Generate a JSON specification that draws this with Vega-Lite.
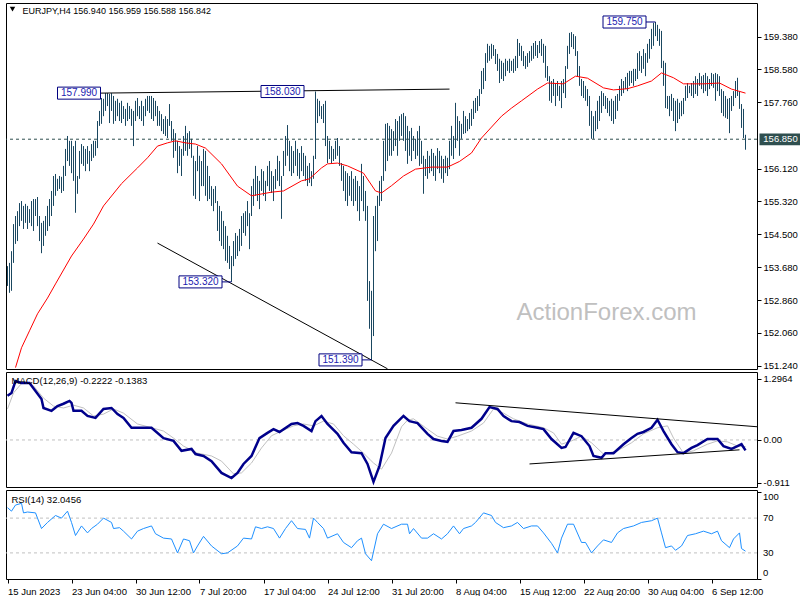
{
"$schema":"https://vega.github.io/schema/vega-lite/v6.json",
"background":"#ffffff",
"padding":{"left":2,"top":2,"right":0,"bottom":0},
"bounds":"flush",
"spacing":3,
"config":{"view":{"stroke":"#000000","strokeWidth":1},"axis":{"labelFont":"Tahoma, Liberation Sans, sans-serif","labelFontSize":9.5,"labelColor":"#000000","tickColor":"#000000","domain":false,"grid":false,"tickSize":4,"labelPadding":2,"labelOverlap":false}},
"datasets":{
"bars":[
{"i":0,"h":153.71,"l":153.22},{"i":1,"h":153.79,"l":153.05},{"i":2,"h":154.08,"l":153.10},{"i":3,"h":154.75,"l":153.79},{"i":4,"h":154.95,"l":154.26},{"i":5,"h":155.07,"l":154.33},{"i":6,"h":155.27,"l":154.70},{"i":7,"h":155.32,"l":154.83},{"i":8,"h":155.20,"l":154.63},{"i":9,"h":155.25,"l":154.78},
{"i":10,"h":155.20,"l":154.63},{"i":11,"h":155.12,"l":154.78},{"i":12,"h":155.32,"l":154.70},{"i":13,"h":155.37,"l":154.58},{"i":14,"h":155.37,"l":154.95},{"i":15,"h":155.42,"l":154.70},{"i":16,"h":154.95,"l":154.33},{"i":17,"h":154.78,"l":154.03},{"i":18,"h":154.83,"l":154.21},{"i":19,"h":154.95,"l":154.46},
{"i":20,"h":155.20,"l":154.58},{"i":21,"h":155.37,"l":154.70},{"i":22,"h":155.57,"l":154.95},{"i":23,"h":155.94,"l":155.20},{"i":24,"h":155.99,"l":155.45},{"i":25,"h":155.87,"l":155.57},{"i":26,"h":155.94,"l":155.62},{"i":27,"h":155.92,"l":155.52},{"i":28,"h":156.19,"l":155.57},{"i":29,"h":156.61,"l":155.94},
{"i":30,"h":156.93,"l":156.31},{"i":31,"h":156.81,"l":156.19},{"i":32,"h":156.81,"l":156.01},{"i":33,"h":156.68,"l":155.82},{"i":34,"h":156.81,"l":155.03},{"i":35,"h":155.94,"l":155.50},{"i":36,"h":156.56,"l":155.87},{"i":37,"h":156.73,"l":156.24},{"i":38,"h":156.68,"l":156.19},{"i":39,"h":156.61,"l":156.06},
{"i":40,"h":156.68,"l":156.24},{"i":41,"h":156.56,"l":156.06},{"i":42,"h":156.73,"l":156.31},{"i":43,"h":156.81,"l":156.39},{"i":44,"h":156.81,"l":156.44},{"i":45,"h":157.30,"l":156.63},{"i":46,"h":157.55,"l":157.18},{"i":47,"h":157.87,"l":157.23},{"i":48,"h":157.85,"l":157.42},{"i":49,"h":157.99,"l":157.55},
{"i":50,"h":157.99,"l":157.67},{"i":51,"h":157.97,"l":157.25},{"i":52,"h":157.99,"l":157.55},{"i":53,"h":157.92,"l":157.23},{"i":54,"h":157.80,"l":157.30},{"i":55,"h":157.85,"l":157.42},{"i":56,"h":157.75,"l":157.30},{"i":57,"h":157.80,"l":157.25},{"i":58,"h":157.67,"l":157.35},{"i":59,"h":157.60,"l":157.18},
{"i":60,"h":157.75,"l":157.30},{"i":61,"h":157.67,"l":157.35},{"i":62,"h":157.60,"l":157.18},{"i":63,"h":157.55,"l":156.68},{"i":64,"h":157.80,"l":157.30},{"i":65,"h":157.87,"l":157.42},{"i":66,"h":157.67,"l":157.35},{"i":67,"h":157.80,"l":157.30},{"i":68,"h":157.67,"l":157.18},{"i":69,"h":157.85,"l":157.42},
{"i":70,"h":157.92,"l":157.55},{"i":71,"h":157.92,"l":157.50},{"i":72,"h":157.92,"l":157.35},{"i":73,"h":157.87,"l":157.30},{"i":74,"h":157.80,"l":157.42},{"i":75,"h":157.67,"l":157.18},{"i":76,"h":157.55,"l":157.18},{"i":77,"h":157.47,"l":157.05},{"i":78,"h":157.35,"l":156.98},{"i":79,"h":157.42,"l":156.93},
{"i":80,"h":157.35,"l":156.88},{"i":81,"h":157.72,"l":157.18},{"i":82,"h":157.30,"l":156.81},{"i":83,"h":157.10,"l":156.39},{"i":84,"h":157.00,"l":156.56},{"i":85,"h":156.81,"l":156.01},{"i":86,"h":156.68,"l":156.19},{"i":87,"h":156.61,"l":155.94},{"i":88,"h":156.93,"l":156.44},{"i":89,"h":157.18,"l":156.56},
{"i":90,"h":157.00,"l":156.44},{"i":91,"h":157.05,"l":156.61},{"i":92,"h":156.86,"l":156.39},{"i":93,"h":156.44,"l":155.45},{"i":94,"h":156.31,"l":155.37},{"i":95,"h":156.68,"l":156.06},{"i":96,"h":156.44,"l":155.32},{"i":97,"h":156.31,"l":155.69},{"i":98,"h":156.61,"l":155.69},{"i":99,"h":156.56,"l":155.45},
{"i":100,"h":156.19,"l":155.32},{"i":101,"h":155.94,"l":155.37},{"i":102,"h":155.69,"l":155.20},{"i":103,"h":155.62,"l":155.07},{"i":104,"h":155.69,"l":155.27},{"i":105,"h":155.32,"l":154.58},{"i":106,"h":155.20,"l":154.33},{"i":107,"h":155.07,"l":154.21},{"i":108,"h":154.83,"l":154.13},{"i":109,"h":154.70,"l":153.84},
{"i":110,"h":154.46,"l":153.79},{"i":111,"h":154.21,"l":153.64},{"i":112,"h":153.96,"l":153.32},{"i":113,"h":154.33,"l":153.71},{"i":114,"h":154.53,"l":153.89},{"i":115,"h":154.46,"l":153.96},{"i":116,"h":154.63,"l":154.08},{"i":117,"h":154.95,"l":154.21},{"i":118,"h":155.02,"l":154.53},{"i":119,"h":155.07,"l":154.46},
{"i":120,"h":155.32,"l":154.70},{"i":121,"h":155.02,"l":154.13},{"i":122,"h":155.69,"l":154.95},{"i":123,"h":155.87,"l":155.20},{"i":124,"h":156.19,"l":155.45},{"i":125,"h":155.94,"l":155.32},{"i":126,"h":155.82,"l":155.12},{"i":127,"h":156.11,"l":155.57},{"i":128,"h":156.06,"l":155.45},{"i":129,"h":155.82,"l":155.32},
{"i":130,"h":156.19,"l":155.69},{"i":131,"h":156.31,"l":155.57},{"i":132,"h":156.06,"l":155.52},{"i":133,"h":155.94,"l":155.32},{"i":134,"h":156.11,"l":155.62},{"i":135,"h":156.44,"l":155.82},{"i":136,"h":156.31,"l":155.69},{"i":137,"h":155.94,"l":154.88},{"i":138,"h":156.56,"l":155.94},{"i":139,"h":156.93,"l":156.19},
{"i":140,"h":157.20,"l":156.44},{"i":141,"h":156.81,"l":156.06},{"i":142,"h":156.68,"l":155.94},{"i":143,"h":156.56,"l":156.01},{"i":144,"h":156.81,"l":156.19},{"i":145,"h":156.61,"l":155.94},{"i":146,"h":156.51,"l":155.87},{"i":147,"h":156.68,"l":156.06},{"i":148,"h":156.51,"l":155.94},{"i":149,"h":156.44,"l":155.82},
{"i":150,"h":156.19,"l":155.69},{"i":151,"h":156.26,"l":155.77},{"i":152,"h":156.06,"l":155.69},{"i":153,"h":156.44,"l":155.87},{"i":154,"h":158.03,"l":156.36},{"i":155,"h":157.85,"l":157.25},{"i":156,"h":157.80,"l":157.42},{"i":157,"h":157.67,"l":157.35},{"i":158,"h":157.72,"l":157.25},{"i":159,"h":157.80,"l":156.68},
{"i":160,"h":156.93,"l":156.26},{"i":161,"h":156.81,"l":156.36},{"i":162,"h":156.68,"l":156.26},{"i":163,"h":156.61,"l":156.31},{"i":164,"h":156.81,"l":156.36},{"i":165,"h":156.88,"l":156.44},{"i":166,"h":156.68,"l":156.19},{"i":167,"h":156.26,"l":155.82},{"i":168,"h":156.19,"l":155.57},{"i":169,"h":156.06,"l":155.32},
{"i":170,"h":156.01,"l":155.20},{"i":171,"h":155.94,"l":155.45},{"i":172,"h":156.06,"l":155.32},{"i":173,"h":155.87,"l":155.20},{"i":174,"h":155.94,"l":155.32},{"i":175,"h":155.82,"l":155.07},{"i":176,"h":155.69,"l":154.83},{"i":177,"h":156.24,"l":155.32},{"i":178,"h":155.94,"l":155.07},{"i":179,"h":155.57,"l":154.83},
{"i":180,"h":155.20,"l":152.85},{"i":181,"h":153.34,"l":152.16},{"i":182,"h":153.10,"l":151.39},{"i":183,"h":154.95,"l":151.98},{"i":184,"h":155.20,"l":154.08},{"i":185,"h":155.45,"l":154.33},{"i":186,"h":155.82,"l":155.20},{"i":187,"h":155.94,"l":155.32},{"i":188,"h":156.81,"l":155.82},{"i":189,"h":157.23,"l":156.06},
{"i":190,"h":157.25,"l":156.31},{"i":191,"h":157.18,"l":156.44},{"i":192,"h":157.10,"l":156.44},{"i":193,"h":157.05,"l":156.56},{"i":194,"h":157.35,"l":156.68},{"i":195,"h":157.30,"l":156.44},{"i":196,"h":157.42,"l":156.81},{"i":197,"h":157.47,"l":156.93},{"i":198,"h":157.50,"l":156.81},{"i":199,"h":157.42,"l":156.56},
{"i":200,"h":157.18,"l":156.24},{"i":201,"h":157.05,"l":156.44},{"i":202,"h":157.13,"l":156.31},{"i":203,"h":156.93,"l":156.56},{"i":204,"h":156.86,"l":156.36},{"i":205,"h":157.05,"l":156.44},{"i":206,"h":157.18,"l":156.19},{"i":207,"h":156.81,"l":156.24},{"i":208,"h":156.44,"l":155.50},{"i":209,"h":156.36,"l":155.94},
{"i":210,"h":156.56,"l":155.87},{"i":211,"h":156.44,"l":156.01},{"i":212,"h":156.61,"l":156.06},{"i":213,"h":156.51,"l":155.94},{"i":214,"h":156.44,"l":155.82},{"i":215,"h":156.63,"l":156.11},{"i":216,"h":156.56,"l":156.01},{"i":217,"h":156.44,"l":155.87},{"i":218,"h":156.36,"l":155.77},{"i":219,"h":156.44,"l":156.01},
{"i":220,"h":156.39,"l":155.94},{"i":221,"h":156.81,"l":156.11},{"i":222,"h":157.18,"l":156.44},{"i":223,"h":156.93,"l":156.36},{"i":224,"h":157.75,"l":156.63},{"i":225,"h":157.42,"l":156.81},{"i":226,"h":157.30,"l":156.44},{"i":227,"h":157.23,"l":156.86},{"i":228,"h":157.55,"l":156.98},{"i":229,"h":157.42,"l":157.00},
{"i":230,"h":157.35,"l":157.05},{"i":231,"h":157.50,"l":157.10},{"i":232,"h":157.60,"l":157.18},{"i":233,"h":157.80,"l":157.35},{"i":234,"h":157.87,"l":157.50},{"i":235,"h":157.92,"l":157.55},{"i":236,"h":158.09,"l":157.67},{"i":237,"h":158.54,"l":157.97},{"i":238,"h":158.61,"l":158.09},{"i":239,"h":158.98,"l":158.29},
{"i":240,"h":159.21,"l":158.74},{"i":241,"h":159.16,"l":158.79},{"i":242,"h":159.21,"l":158.84},{"i":243,"h":159.18,"l":158.91},{"i":244,"h":159.08,"l":158.71},{"i":245,"h":158.96,"l":158.54},{"i":246,"h":158.84,"l":158.24},{"i":247,"h":158.79,"l":158.34},{"i":248,"h":158.74,"l":158.29},{"i":249,"h":158.84,"l":158.41},
{"i":250,"h":158.79,"l":158.54},{"i":251,"h":158.84,"l":158.49},{"i":252,"h":158.79,"l":158.54},{"i":253,"h":158.84,"l":158.49},{"i":254,"h":158.91,"l":158.54},{"i":255,"h":159.33,"l":158.61},{"i":256,"h":159.23,"l":158.91},{"i":257,"h":159.16,"l":158.79},{"i":258,"h":159.03,"l":158.66},{"i":259,"h":158.91,"l":158.59},
{"i":260,"h":158.98,"l":158.64},{"i":261,"h":159.03,"l":158.74},{"i":262,"h":159.16,"l":158.79},{"i":263,"h":159.23,"l":158.84},{"i":264,"h":159.28,"l":158.91},{"i":265,"h":159.18,"l":158.86},{"i":266,"h":159.28,"l":158.98},{"i":267,"h":159.33,"l":158.91},{"i":268,"h":159.21,"l":158.74},{"i":269,"h":159.16,"l":158.37},
{"i":270,"h":158.66,"l":158.29},{"i":271,"h":158.41,"l":157.80},{"i":272,"h":158.29,"l":157.75},{"i":273,"h":158.34,"l":157.92},{"i":274,"h":158.24,"l":157.67},{"i":275,"h":158.29,"l":157.92},{"i":276,"h":158.17,"l":157.80},{"i":277,"h":158.29,"l":157.62},{"i":278,"h":158.34,"l":157.99},{"i":279,"h":158.66,"l":157.87},
{"i":280,"h":159.16,"l":158.59},{"i":281,"h":159.48,"l":158.96},{"i":282,"h":159.50,"l":159.13},{"i":283,"h":159.45,"l":159.08},{"i":284,"h":159.40,"l":158.91},{"i":285,"h":159.03,"l":158.41},{"i":286,"h":158.66,"l":158.17},{"i":287,"h":158.34,"l":157.92},{"i":288,"h":158.29,"l":157.87},{"i":289,"h":158.17,"l":157.80},
{"i":290,"h":158.09,"l":157.67},{"i":291,"h":157.92,"l":157.18},{"i":292,"h":157.55,"l":156.86},{"i":293,"h":157.42,"l":156.86},{"i":294,"h":157.55,"l":157.05},{"i":295,"h":157.80,"l":157.10},{"i":296,"h":157.92,"l":157.30},{"i":297,"h":158.04,"l":157.50},{"i":298,"h":157.99,"l":157.67},{"i":299,"h":157.92,"l":157.60},
{"i":300,"h":157.87,"l":157.50},{"i":301,"h":157.80,"l":157.42},{"i":302,"h":157.85,"l":157.30},{"i":303,"h":157.80,"l":157.23},{"i":304,"h":157.92,"l":157.35},{"i":305,"h":157.97,"l":157.55},{"i":306,"h":158.17,"l":157.80},{"i":307,"h":158.34,"l":157.92},{"i":308,"h":158.29,"l":157.99},{"i":309,"h":158.39,"l":158.09},
{"i":310,"h":158.49,"l":158.04},{"i":311,"h":158.54,"l":158.17},{"i":312,"h":158.54,"l":158.24},{"i":313,"h":158.59,"l":158.17},{"i":314,"h":158.59,"l":158.29},{"i":315,"h":158.98,"l":158.34},{"i":316,"h":159.03,"l":158.54},{"i":317,"h":158.91,"l":158.49},{"i":318,"h":159.08,"l":158.59},{"i":319,"h":158.98,"l":158.41},
{"i":320,"h":159.21,"l":158.74},{"i":321,"h":159.33,"l":158.84},{"i":322,"h":159.58,"l":159.08},{"i":323,"h":159.73,"l":159.16},{"i":324,"h":159.75,"l":159.40},{"i":325,"h":159.68,"l":159.28},{"i":326,"h":159.58,"l":159.16},{"i":327,"h":159.53,"l":158.61},{"i":328,"h":158.79,"l":158.17},{"i":329,"h":158.74,"l":157.62},
{"i":330,"h":157.92,"l":157.60},{"i":331,"h":157.92,"l":157.42},{"i":332,"h":157.97,"l":157.55},{"i":333,"h":157.87,"l":157.30},{"i":334,"h":157.80,"l":157.05},{"i":335,"h":157.85,"l":157.25},{"i":336,"h":157.75,"l":157.35},{"i":337,"h":157.80,"l":157.42},{"i":338,"h":157.87,"l":157.47},{"i":339,"h":158.17,"l":157.80},
{"i":340,"h":158.24,"l":157.87},{"i":341,"h":158.17,"l":157.99},{"i":342,"h":158.24,"l":157.92},{"i":343,"h":158.29,"l":157.87},{"i":344,"h":158.41,"l":157.97},{"i":345,"h":158.34,"l":157.92},{"i":346,"h":158.49,"l":158.17},{"i":347,"h":158.41,"l":158.09},{"i":348,"h":158.44,"l":157.99},{"i":349,"h":158.49,"l":158.04},
{"i":350,"h":158.41,"l":157.92},{"i":351,"h":158.34,"l":158.09},{"i":352,"h":158.49,"l":158.17},{"i":353,"h":158.46,"l":158.12},{"i":354,"h":158.49,"l":157.80},{"i":355,"h":158.46,"l":158.04},{"i":356,"h":158.41,"l":157.92},{"i":357,"h":158.09,"l":157.50},{"i":358,"h":158.04,"l":157.42},{"i":359,"h":157.92,"l":157.38},
{"i":360,"h":157.85,"l":157.35},{"i":361,"h":157.87,"l":157.00},{"i":362,"h":157.92,"l":157.55},{"i":363,"h":158.04,"l":157.67},{"i":364,"h":158.29,"l":157.87},{"i":365,"h":158.37,"l":157.92},{"i":366,"h":158.04,"l":157.60},{"i":367,"h":157.72,"l":157.13},{"i":368,"h":157.60,"l":156.88},{"i":369,"h":156.96,"l":156.59}
],
"ma":[
{"i":4,"p":151.2},{"i":7,"p":151.69},{"i":11,"p":152.11},{"i":15,"p":152.53},{"i":20,"p":152.92},{"i":24,"p":153.27},{"i":32,"p":153.96},{"i":38,"p":154.38},{"i":43,"p":154.75},{"i":48,"p":155.2},{"i":57,"p":155.75},{"i":65,"p":156.14},{"i":70,"p":156.39},{"i":75,"p":156.68},{"i":80,"p":156.76},{"i":84,"p":156.81},{"i":89,"p":156.76},{"i":94,"p":156.73},{"i":99,"p":156.63},{"i":107,"p":156.24},{"i":115,"p":155.69},{"i":122,"p":155.45},{"i":132,"p":155.54},{"i":138,"p":155.57},{"i":147,"p":155.82},{"i":151,"p":155.87},{"i":157,"p":156.14},{"i":160,"p":156.24},{"i":165,"p":156.26},{"i":170,"p":156.19},{"i":178,"p":156.01},{"i":184,"p":155.57},{"i":187,"p":155.52},{"i":192,"p":155.7},{"i":198,"p":155.94},{"i":204,"p":156.11},{"i":212,"p":156.16},{"i":220,"p":156.16},{"i":226,"p":156.3},{"i":232,"p":156.51},{"i":237,"p":156.88},{"i":242,"p":157.15},{"i":247,"p":157.42},{"i":252,"p":157.62},{"i":257,"p":157.8},{"i":265,"p":158.09},{"i":270,"p":158.24},{"i":278,"p":158.22},{"i":284,"p":158.41},{"i":290,"p":158.36},{"i":298,"p":158.12},{"i":303,"p":158.07},{"i":310,"p":158.1},{"i":315,"p":158.17},{"i":322,"p":158.29},{"i":327,"p":158.49},{"i":333,"p":158.37},{"i":338,"p":158.22},{"i":348,"p":158.22},{"i":356,"p":158.24},{"i":362,"p":158.09},{"i":369,"p":157.99}
],
"tl":[
{"g":"a","i":46,"p":157.99},{"g":"a","i":221,"p":158.09},
{"g":"b","i":75,"p":154.28},{"g":"b","i":190,"p":151.17}
],
"lbl":[
{"t":"157.990","c":35.75,"p":157.99},{"t":"158.030","c":137.5,"p":158.03},{"t":"159.750","c":308.5,"p":159.75},{"t":"153.320","c":96.5,"p":153.32},{"t":"151.390","c":166.5,"p":151.39}
],
"conn":[
{"a":319,"b":324,"p":159.75},{"a":107,"b":112,"p":153.32},{"a":177,"b":182,"p":151.39}
],
"macd":[
{"i":0,"m":0.94},{"i":2,"m":1.0},{"i":4,"m":1.25},{"i":7,"m":1.21},{"i":11,"m":1.21},{"i":14,"m":1.04},{"i":17,"m":0.87},{"i":18,"m":0.68},{"i":22,"m":0.62},{"i":25,"m":0.72},{"i":28,"m":0.77},{"i":31,"m":0.83},{"i":32,"m":0.79},{"i":33,"m":0.62},{"i":37,"m":0.62},{"i":40,"m":0.51},{"i":44,"m":0.47},{"i":48,"m":0.66},{"i":52,"m":0.68},{"i":55,"m":0.55},{"i":58,"m":0.47},{"i":62,"m":0.26},{"i":72,"m":0.26},{"i":78,"m":0.04},{"i":83,"m":-0.02},{"i":87,"m":-0.23},{"i":92,"m":-0.19},{"i":94,"m":-0.3},{"i":98,"m":-0.34},{"i":102,"m":-0.45},{"i":107,"m":-0.7},{"i":112,"m":-0.81},{"i":115,"m":-0.7},{"i":118,"m":-0.51},{"i":122,"m":-0.34},{"i":126,"m":0.04},{"i":130,"m":0.15},{"i":133,"m":0.23},{"i":136,"m":0.17},{"i":142,"m":0.34},{"i":145,"m":0.36},{"i":148,"m":0.3},{"i":152,"m":0.19},{"i":154,"m":0.4},{"i":157,"m":0.51},{"i":160,"m":0.34},{"i":165,"m":0.13},{"i":168,"m":-0.06},{"i":172,"m":-0.26},{"i":177,"m":-0.28},{"i":180,"m":-0.51},{"i":183,"m":-0.89},{"i":186,"m":-0.55},{"i":189,"m":0.04},{"i":193,"m":0.3},{"i":198,"m":0.51},{"i":201,"m":0.4},{"i":205,"m":0.36},{"i":210,"m":0.13},{"i":213,"m":0.02},{"i":217,"m":-0.02},{"i":220,"m":-0.04},{"i":223,"m":0.19},{"i":227,"m":0.21},{"i":232,"m":0.26},{"i":237,"m":0.45},{"i":241,"m":0.7},{"i":245,"m":0.66},{"i":248,"m":0.51},{"i":252,"m":0.4},{"i":256,"m":0.38},{"i":260,"m":0.3},{"i":265,"m":0.26},{"i":268,"m":0.23},{"i":272,"m":0.02},{"i":277,"m":-0.17},{"i":279,"m":-0.15},{"i":283,"m":0.15},{"i":287,"m":0.08},{"i":291,"m":-0.13},{"i":293,"m":-0.34},{"i":297,"m":-0.38},{"i":299,"m":-0.28},{"i":303,"m":-0.28},{"i":308,"m":-0.09},{"i":312,"m":0.04},{"i":315,"m":0.13},{"i":318,"m":0.17},{"i":322,"m":0.26},{"i":325,"m":0.43},{"i":328,"m":0.19},{"i":332,"m":-0.09},{"i":335,"m":-0.26},{"i":338,"m":-0.28},{"i":342,"m":-0.17},{"i":345,"m":-0.11},{"i":350,"m":0.02},{"i":355,"m":0.02},{"i":358,"m":-0.13},{"i":362,"m":-0.19},{"i":365,"m":-0.13},{"i":367,"m":-0.09},{"i":369,"m":-0.22}
],
"sig":[
{"i":0,"s":0.66},{"i":3,"s":1.0},{"i":8,"s":1.25},{"i":13,"s":1.15},{"i":18,"s":0.89},{"i":23,"s":0.72},{"i":28,"s":0.68},{"i":33,"s":0.74},{"i":38,"s":0.68},{"i":43,"s":0.51},{"i":48,"s":0.55},{"i":53,"s":0.66},{"i":58,"s":0.57},{"i":65,"s":0.34},{"i":72,"s":0.26},{"i":78,"s":0.19},{"i":83,"s":0.04},{"i":88,"s":-0.13},{"i":95,"s":-0.28},{"i":102,"s":-0.34},{"i":107,"s":-0.45},{"i":113,"s":-0.72},{"i":117,"s":-0.7},{"i":122,"s":-0.49},{"i":127,"s":-0.17},{"i":132,"s":0.09},{"i":137,"s":0.19},{"i":143,"s":0.3},{"i":148,"s":0.34},{"i":153,"s":0.3},{"i":158,"s":0.4},{"i":163,"s":0.34},{"i":168,"s":0.09},{"i":173,"s":-0.09},{"i":178,"s":-0.28},{"i":183,"s":-0.49},{"i":187,"s":-0.62},{"i":192,"s":-0.28},{"i":197,"s":0.28},{"i":200,"s":0.42},{"i":203,"s":0.45},{"i":210,"s":0.23},{"i":215,"s":0.08},{"i":220,"s":0.02},{"i":225,"s":0.08},{"i":232,"s":0.19},{"i":238,"s":0.36},{"i":243,"s":0.66},{"i":248,"s":0.57},{"i":253,"s":0.45},{"i":260,"s":0.34},{"i":268,"s":0.26},{"i":273,"s":0.15},{"i":277,"s":-0.09},{"i":282,"s":-0.02},{"i":287,"s":0.08},{"i":292,"s":-0.06},{"i":298,"s":-0.3},{"i":305,"s":-0.23},{"i":312,"s":-0.06},{"i":318,"s":0.13},{"i":325,"s":0.26},{"i":330,"s":0.3},{"i":333,"s":0.04},{"i":338,"s":-0.28},{"i":343,"s":-0.23},{"i":350,"s":-0.09},{"i":355,"s":-0.02},{"i":360,"s":-0.04},{"i":365,"s":-0.13},{"i":369,"s":-0.14}
],
"mtl":[
{"g":"u","i":224,"v":0.79},{"g":"u","i":375,"v":0.28},
{"g":"d","i":261,"v":-0.51},{"g":"d","i":366,"v":-0.21}
],
"rsiax":[
{"t":"100","x":377.75,"y":94.3},{"t":"70","x":377.75,"y":70},{"t":"30","x":377.75,"y":30},{"t":"0","x":377.75,"y":6.9}
],
"rsi":[
{"i":0,"r":82},{"i":2,"r":78},{"i":4,"r":85},{"i":7,"r":87},{"i":8,"r":76},{"i":10,"r":77},{"i":14,"r":76},{"i":17,"r":58},{"i":20,"r":65},{"i":24,"r":73},{"i":27,"r":70},{"i":30,"r":78},{"i":32,"r":65},{"i":34,"r":50},{"i":37,"r":61},{"i":40,"r":53},{"i":42,"r":58},{"i":45,"r":63},{"i":48,"r":70},{"i":52,"r":65},{"i":53,"r":58},{"i":56,"r":59},{"i":58,"r":55},{"i":62,"r":46},{"i":65,"r":55},{"i":68,"r":58},{"i":72,"r":61},{"i":74,"r":52},{"i":78,"r":47},{"i":82,"r":46},{"i":85,"r":30},{"i":88,"r":46},{"i":91,"r":44},{"i":93,"r":30},{"i":95,"r":38},{"i":98,"r":49},{"i":102,"r":38},{"i":107,"r":29},{"i":110,"r":30},{"i":115,"r":38},{"i":118,"r":47},{"i":122,"r":46},{"i":124,"r":60},{"i":127,"r":58},{"i":130,"r":60},{"i":133,"r":58},{"i":136,"r":47},{"i":139,"r":58},{"i":142,"r":67},{"i":145,"r":58},{"i":149,"r":57},{"i":151,"r":47},{"i":153,"r":70},{"i":155,"r":65},{"i":158,"r":58},{"i":160,"r":47},{"i":165,"r":52},{"i":168,"r":42},{"i":172,"r":36},{"i":175,"r":44},{"i":177,"r":47},{"i":179,"r":29},{"i":182,"r":21},{"i":185,"r":52},{"i":188,"r":63},{"i":192,"r":58},{"i":197,"r":63},{"i":200,"r":63},{"i":201,"r":52},{"i":203,"r":58},{"i":207,"r":47},{"i":210,"r":47},{"i":213,"r":52},{"i":217,"r":46},{"i":220,"r":52},{"i":223,"r":61},{"i":226,"r":52},{"i":228,"r":58},{"i":232,"r":61},{"i":234,"r":65},{"i":238,"r":76},{"i":242,"r":73},{"i":244,"r":65},{"i":248,"r":59},{"i":252,"r":61},{"i":255,"r":65},{"i":258,"r":58},{"i":262,"r":61},{"i":265,"r":61},{"i":268,"r":53},{"i":272,"r":41},{"i":275,"r":30},{"i":277,"r":47},{"i":280,"r":63},{"i":283,"r":63},{"i":287,"r":42},{"i":289,"r":42},{"i":292,"r":30},{"i":295,"r":38},{"i":298,"r":45},{"i":302,"r":42},{"i":305,"r":53},{"i":308,"r":58},{"i":313,"r":61},{"i":317,"r":65},{"i":322,"r":67},{"i":325,"r":70},{"i":327,"r":53},{"i":329,"r":36},{"i":332,"r":38},{"i":334,"r":33},{"i":337,"r":38},{"i":340,"r":50},{"i":344,"r":52},{"i":348,"r":55},{"i":352,"r":52},{"i":355,"r":55},{"i":357,"r":44},{"i":361,"r":36},{"i":363,"r":46},{"i":366,"r":53},{"i":367,"r":35},{"i":369,"r":32}
]
},
"vconcat":[
{
"width":751,"height":366,
"layer":[
{"data":{"name":"bars"},"mark":{"type":"rule","color":"#1a4760","strokeWidth":1},
 "encoding":{"x":{"field":"i","type":"quantitative","scale":{"domain":[-0.75,374.75],"nice":false,"zero":false},"axis":null},
 "y":{"field":"l","type":"quantitative","scale":{"domain":[151.165,160.22],"nice":false,"zero":false},"axis":{"orient":"right","title":null,"values":[159.38,158.58,157.76,156.12,155.32,154.5,153.68,152.86,152.06,151.24],"format":".3f","labelFlush":false,"labelOverlap":false}},
 "y2":{"field":"h"}}},
{"data":{"name":"ma"},"mark":{"type":"line","color":"#ff0000","strokeWidth":1},
 "encoding":{"x":{"field":"i","type":"quantitative"},"y":{"field":"p","type":"quantitative"}}},
{"data":{"name":"tl"},"mark":{"type":"line","color":"#000000","strokeWidth":1},
 "encoding":{"x":{"field":"i","type":"quantitative"},"y":{"field":"p","type":"quantitative"},"detail":{"field":"g"}}},
{"data":{"values":[{"v":156.85}]},"mark":{"type":"rule","color":"#2f4f4f","strokeDash":[3,3],"strokeWidth":1},
 "encoding":{"y":{"field":"v","type":"quantitative"}}},
{"data":{"name":"conn"},"mark":{"type":"rule","color":"#000080","strokeWidth":1},
 "encoding":{"x":{"field":"a","type":"quantitative"},"x2":{"field":"b"},"y":{"field":"p","type":"quantitative"}}},
{"data":{"name":"lbl"},"mark":{"type":"point","shape":"M-1,-0.28L1,-0.28L1,0.28L-1,0.28Z","size":1849,"filled":true,"fill":"#ffffff","stroke":"#000080","strokeWidth":1,"opacity":1},
 "encoding":{"x":{"field":"c","type":"quantitative"},"y":{"field":"p","type":"quantitative"}}},
{"data":{"name":"lbl"},"mark":{"type":"text","font":"Tahoma, Liberation Sans, sans-serif","fontSize":10,"color":"#1c1cb0","align":"center","baseline":"middle"},
 "encoding":{"x":{"field":"c","type":"quantitative"},"y":{"field":"p","type":"quantitative"},"text":{"field":"t"}}},
{"data":{"values":[{"t":"ActionForex.com","x":299.5,"y":152.55}]},"mark":{"type":"text","font":"Liberation Sans, Arial, sans-serif","fontSize":24,"color":"#c0c0c0","align":"center","baseline":"middle"},
 "encoding":{"x":{"field":"x","type":"quantitative"},"y":{"field":"y","type":"quantitative"},"text":{"field":"t"}}},
{"data":{"values":[{"x":2.5,"y":160.07}]},"mark":{"type":"point","shape":"triangle-down","size":30,"filled":true,"color":"#000000","opacity":1},
 "encoding":{"x":{"field":"x","type":"quantitative"},"y":{"field":"y","type":"quantitative"}}},
{"data":{"values":[{"t":"EURJPY,H4  156.940 156.959 156.588 156.842","x":7.5,"y":160.02}]},"mark":{"type":"text","font":"Tahoma, Liberation Sans, sans-serif","fontSize":9,"color":"#000000","align":"left","baseline":"middle"},
 "encoding":{"x":{"field":"x","type":"quantitative"},"y":{"field":"y","type":"quantitative"},"text":{"field":"t"}}},
{"data":{"values":[{"t":"156.850","x":386.5,"y":156.845}]},"mark":{"type":"point","shape":"M-1,-0.28L1,-0.28L1,0.28L-1,0.28Z","size":1764,"filled":true,"fill":"#2f4f4f","strokeWidth":0,"opacity":1},
 "encoding":{"x":{"field":"x","type":"quantitative"},"y":{"field":"y","type":"quantitative"}}},
{"data":{"values":[{"t":"156.850","x":386.5,"y":156.845}]},"mark":{"type":"text","font":"Tahoma, Liberation Sans, sans-serif","fontSize":9.5,"color":"#ffffff","align":"center","baseline":"middle"},
 "encoding":{"x":{"field":"x","type":"quantitative"},"y":{"field":"y","type":"quantitative"},"text":{"field":"t"}}}
]
},
{
"width":751,"height":115,
"layer":[
{"data":{"values":[{"v":0}]},"mark":{"type":"rule","color":"#c0c0c0","strokeDash":[3,3],"strokeWidth":1},
 "encoding":{"y":{"field":"v","type":"quantitative","scale":{"domain":[-1.0,1.445],"nice":false,"zero":false},"axis":{"orient":"right","title":null,"values":[-0.911,0,1.2964],"labelExpr":"datum.value==0?'0.00':(datum.value>1?'1.2964':'-0.911')","labelFlush":false,"labelOverlap":false}}}},
{"data":{"name":"sig"},"mark":{"type":"line","color":"#c0c0c0","strokeWidth":1},
 "encoding":{"x":{"field":"i","type":"quantitative","scale":{"domain":[-0.75,374.75],"nice":false,"zero":false},"axis":null},"y":{"field":"s","type":"quantitative"}}},
{"data":{"name":"macd"},"mark":{"type":"line","color":"#00008b","strokeWidth":2.5},
 "encoding":{"x":{"field":"i","type":"quantitative"},"y":{"field":"m","type":"quantitative"}}},
{"data":{"name":"mtl"},"mark":{"type":"line","color":"#000000","strokeWidth":1},
 "encoding":{"x":{"field":"i","type":"quantitative"},"y":{"field":"v","type":"quantitative"},"detail":{"field":"g"}}},
{"data":{"values":[{"t":"MACD(12,26,9) -0.2222 -0.1383","x":2,"y":1.254}]},"mark":{"type":"text","font":"Tahoma, Liberation Sans, sans-serif","fontSize":9.5,"color":"#000000","align":"left","baseline":"middle"},
 "encoding":{"x":{"field":"x","type":"quantitative"},"y":{"field":"y","type":"quantitative"},"text":{"field":"t"}}}
]
},
{
"width":751,"height":89,
"layer":[
{"data":{"values":[{"v":70},{"v":30}]},"mark":{"type":"rule","color":"#c0c0c0","strokeDash":[3,3],"strokeWidth":1},
 "encoding":{"y":{"field":"v","type":"quantitative","scale":{"domain":[0,102.3],"nice":false,"zero":false},"axis":{"orient":"right","title":null,"values":[0,30,70,100],"labels":false}}}},
{"data":{"name":"rsi"},"mark":{"type":"line","color":"#1e90ff","strokeWidth":1},
 "encoding":{"x":{"field":"i","type":"quantitative","scale":{"domain":[-0.75,374.75],"nice":false,"zero":false},
  "axis":{"orient":"bottom","title":null,"values":[0,32,64,96,128,160,192,224,256,288,320,352],"labelExpr":"['15 Jun 2023','23 Jun 04:00','30 Jun 12:00','7 Jul 20:00','17 Jul 04:00','24 Jul 12:00','31 Jul 20:00','8 Aug 04:00','15 Aug 12:00','22 Aug 20:00','30 Aug 04:00','6 Sep 12:00'][round(datum.value/32)]","labelAlign":"left","labelFlush":false,"labelOverlap":false,"labelPadding":3}},
 "y":{"field":"r","type":"quantitative"}}},
{"data":{"values":[{"t":"RSI(14) 32.0456","x":2,"y":90.9}]},"mark":{"type":"text","font":"Tahoma, Liberation Sans, sans-serif","fontSize":9.5,"color":"#000000","align":"left","baseline":"middle"},
 "encoding":{"x":{"field":"x","type":"quantitative"},"y":{"field":"y","type":"quantitative"},"text":{"field":"t"}}},
{"data":{"name":"rsiax"},"mark":{"type":"text","font":"Tahoma, Liberation Sans, sans-serif","fontSize":9.5,"color":"#000000","align":"left","baseline":"middle"},
 "encoding":{"x":{"field":"x","type":"quantitative"},"y":{"field":"y","type":"quantitative"},"text":{"field":"t"}}}
]
}
]
}
